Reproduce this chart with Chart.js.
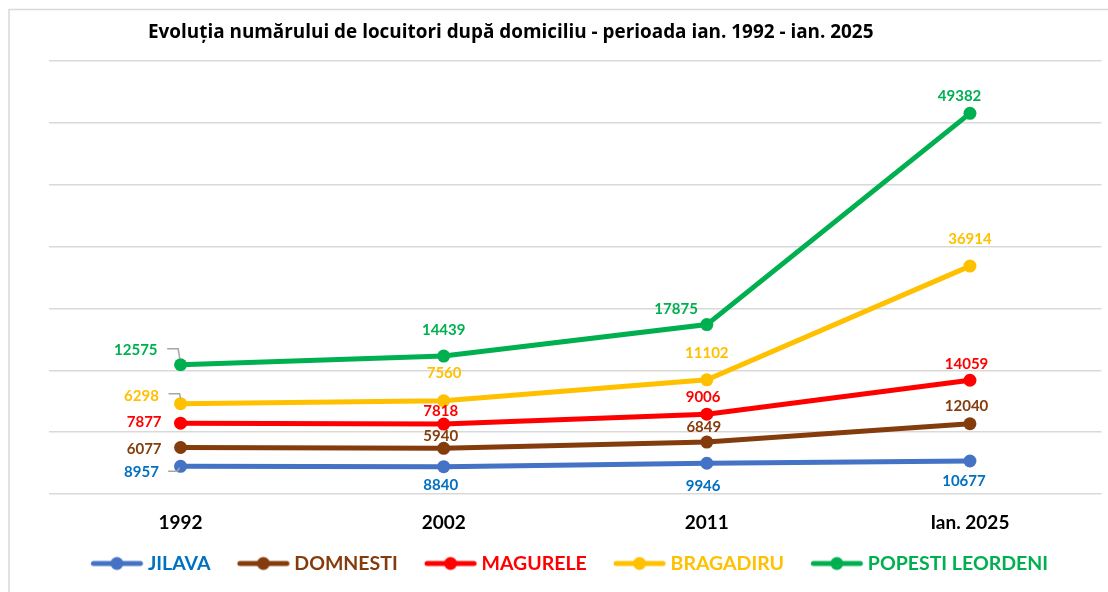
<!DOCTYPE html>
<html>
<head>
<meta charset="utf-8">
<script src="https://cdn.jsdelivr.net/npm/chart.js@4.4.1/dist/chart.umd.min.js"></script>
<style>
  html, body { margin: 0; padding: 0; background: #ffffff; }
  #wrap { width: 1108px; height: 592px; }
</style>
</head>
<body>
<div id="wrap"><canvas id="c" width="1108" height="592"></canvas></div>
<script>
// Population by registered domicile, Jan. 1992 - Jan. 2025
const years = ['1992', '2002', '2011', 'Ian. 2025'];
const jilava    = [8957, 8840, 9946, 10677];
const domnesti  = [6077, 5940, 6849, 12040];
const magurele  = [7877, 7818, 9006, 14059];
const bragadiru = [6298, 7560, 11102, 36914];
const popesti   = [12575, 14439, 17875, 49382];
const seriesNames = ['JILAVA', 'DOMNESTI', 'MAGURELE', 'BRAGADIRU', 'POPESTI LEORDENI'];
const yMin = 0, yMax = 140000, yStep = 20000;
const titleText = 'Evoluția numărului de locuitori după domiciliu - perioada ian. 1992 - ian. 2025';

const seriesValues = [jilava, domnesti, magurele, bragadiru, popesti];
const lineColors  = ['#4472C4', '#843C0C', '#FF0000', '#FFC000', '#00B050'];
const textColors  = ['#0070C0', '#843C0C', '#FF0000', '#FFC000', '#00B050'];

// value label placement, relative to each point: [dx, dy, align]
const labelSpots = [
  [[-21.7, 5, 'right'], [-3, 17.6], [-3.7, 22.7], [-6, 19.3]],
  [[-19, 0.7, 'right'], [-3, -12.3], [-3, -15], [-3.4, -18.3]],
  [[-19, -1.7, 'right'], [-3, -14], [-3.7, -17.3], [-3.4, -16.3]],
  [[-21.7, -8.3, 'right'], [0.4, -27.7], [0, -27], [0, -27]],
  [[-23, -15, 'right'], [0, -26.7], [-30.7, -16], [-10.4, -17.6]]
];
// leader lines from a label to its point: {series, index, path relative to point}
const leaders = [
  { s: 0, i: 0, path: [[-12.4, 5], [-3.4, 5], [-1, 1.5]] },
  { s: 3, i: 0, path: [[-12, -10], [-1, -10], [0, -5]] },
  { s: 4, i: 0, path: [[-13.4, -16], [-2.4, -16], [-0.7, -6]] }
];

const FONT = 'Lato, "Open Sans", sans-serif';
const TITLE_FONT = '"Open Sans", Lato, sans-serif';

// legend marker: line with a dot in the middle
function legendIcon(color) {
  const cv = document.createElement('canvas');
  cv.width = 80; cv.height = 16;
  const g = cv.getContext('2d');
  g.strokeStyle = color; g.fillStyle = color;
  g.lineWidth = 5; g.lineCap = 'round';
  g.beginPath(); g.moveTo(27.25, 8); g.lineTo(74.25, 8); g.stroke();
  g.beginPath(); g.arc(50.75, 8, 6.5, 0, Math.PI * 2); g.fill();
  return cv;
}
const legendIcons = lineColors.map(legendIcon);

const framePlugin = {
  id: 'frame',
  beforeDraw(chart) {
    const ctx = chart.ctx;
    ctx.save();
    ctx.fillStyle = '#ffffff';
    ctx.fillRect(0, 0, chart.width, chart.height);
    ctx.strokeStyle = '#d9d9d9';
    ctx.lineWidth = 1.5;
    ctx.beginPath();
    ctx.moveTo(9, chart.height + 5);
    ctx.lineTo(9, 9.5);
    ctx.lineTo(chart.width + 5, 9.5);
    ctx.stroke();
    ctx.restore();
  },
  afterDraw(chart) {
    const ctx = chart.ctx;
    ctx.save();
    ctx.font = 'bold 18.9px ' + TITLE_FONT;
    ctx.fillStyle = '#000000';
    ctx.textAlign = 'left';
    ctx.textBaseline = 'alphabetic';
    ctx.fillText(titleText, 148, 37.5);
    ctx.restore();
  }
};

const valueLabels = {
  id: 'valueLabels',
  afterDatasetsDraw(chart) {
    const ctx = chart.ctx;
    ctx.save();
    // leader lines
    ctx.strokeStyle = '#a6a6a6';
    ctx.lineWidth = 1.5;
    leaders.forEach(l => {
      const p = chart.getDatasetMeta(l.s).data[l.i];
      ctx.beginPath();
      l.path.forEach((q, k) => {
        const x = p.x + q[0], y = p.y + q[1];
        if (k === 0) ctx.moveTo(x, y); else ctx.lineTo(x, y);
      });
      ctx.stroke();
    });
    const size = 15;
    ctx.font = 'bold ' + size + 'px ' + FONT;
    ctx.textBaseline = 'alphabetic';
    chart.data.datasets.forEach((ds, s) => {
      const meta = chart.getDatasetMeta(s);
      meta.data.forEach((pt, i) => {
        const spot = labelSpots[s][i];
        ctx.fillStyle = textColors[s];
        ctx.textAlign = spot[2] || 'center';
        ctx.fillText(String(ds.data[i]), pt.x + spot[0], pt.y + spot[1] + size * 0.36);
      });
    });
    ctx.restore();
  }
};

new Chart(document.getElementById('c'), {
  type: 'line',
  data: {
    labels: years,
    datasets: seriesNames.map((name, s) => ({
      label: name,
      data: seriesValues[s],
      borderColor: lineColors[s],
      backgroundColor: lineColors[s],
      pointBackgroundColor: lineColors[s],
      pointBorderColor: lineColors[s],
      pointRadius: 6.5,
      pointHoverRadius: 6.5,
      pointBorderWidth: 0,
      borderWidth: 5,
      tension: 0,
      fill: false
    }))
  },
  options: {
    responsive: false,
    devicePixelRatio: 1,
    animation: false,
    layout: { padding: { top: 61, left: 19.2, right: 5, bottom: 8.75 } },
    plugins: {
      title: { display: false },
      tooltip: { enabled: false },
      legend: {
        position: 'bottom',
        align: 'center',
        labels: {
          usePointStyle: true,
          pointStyleWidth: 64,
          padding: 10,
          font: { family: FONT, weight: 'bold', size: 19.5 },
          generateLabels(chart) {
            return chart.data.datasets.map((ds, i) => ({
              text: ds.label,
              fontColor: textColors[i],
              pointStyle: legendIcons[i],
              fillStyle: lineColors[i],
              strokeStyle: lineColors[i],
              lineWidth: 0,
              hidden: !chart.isDatasetVisible(i),
              datasetIndex: i
            }));
          }
        }
      }
    },
    scales: {
      x: {
        offset: true,
        grid: { display: false, drawTicks: false },
        border: { display: false },
        ticks: {
          color: '#000000',
          padding: 17.6,
          font: { family: FONT, weight: 'bold', size: 19 }
        },
        afterFit(scale) { scale.height = 49.75; }
      },
      y: {
        stacked: true,
        min: yMin,
        max: yMax,
        ticks: { display: false, stepSize: yStep },
        grid: { color: '#d9d9d9', lineWidth: 1.5, drawTicks: false },
        border: { display: false },
        afterFit(scale) { scale.width = 29.8; }
      }
    }
  },
  plugins: [framePlugin, valueLabels]
});
</script>
</body>
</html>
